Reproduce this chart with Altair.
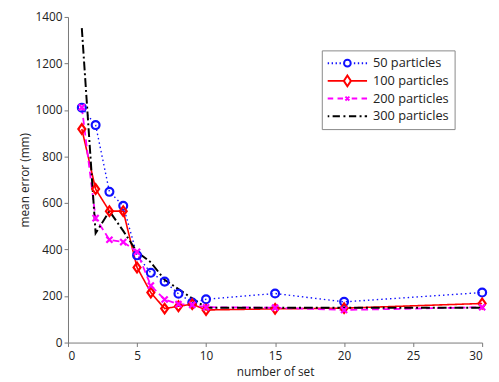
import altair as alt
import pandas as pd

# ---- data ----
sets = [1, 2, 3, 4, 5, 6, 7, 8, 9, 10, 15, 20, 30]
p50 = [1010, 935, 648, 588, 375, 300, 262, 210, 172, 186, 211, 175, 215]
p100 = [918, 660, 565, 565, 323, 215, 146, 156, 165, 140, 145, 148, 168]
p200 = [1012, 535, 442, 432, 390, 245, 185, 165, 162, 152, 150, 140, 152]
p300 = [1352, 470, 565, 480, 390, 345, 270, 230, 190, 150, 150, 150, 150]

series_names = ["50 particles", "100 particles", "200 particles", "300 particles"]
series_values = [p50, p100, p200, p300]
x_ticks = [0, 5, 10, 15, 20, 25, 30]
y_ticks = [0, 200, 400, 600, 800, 1000, 1200, 1400]

rows = []
for name, vals in zip(series_names, series_values):
    for s, v in zip(sets, vals):
        rows.append({"set": s, "error": v, "series": name})
df = pd.DataFrame(rows)

colors = ["#1010ff", "#ff0000", "#ff00ff", "#000000"]

x_enc = alt.X("set:Q", title="number of set",
              scale=alt.Scale(domain=[0, 30], nice=False),
              axis=alt.Axis(values=x_ticks, format="d", titlePadding=6, labelPadding=4))
y_enc = alt.Y("error:Q", title="mean error (mm)",
              scale=alt.Scale(domain=[0, 1400], nice=False),
              axis=alt.Axis(values=y_ticks, format="d", titlePadding=4))

base = alt.Chart(df)

lines = base.mark_line().encode(
    x=x_enc,
    y=y_enc,
    color=alt.Color("series:N", scale=alt.Scale(domain=series_names, range=colors), legend=None),
    strokeDash=alt.StrokeDash("series:N",
                              scale=alt.Scale(domain=series_names,
                                              range=[[1.5, 3], [1, 0], [7, 4], [9, 3, 2, 3]]),
                              legend=None),
    strokeWidth=alt.StrokeWidth("series:N",
                                scale=alt.Scale(domain=series_names, range=[1.4, 2, 2, 2]),
                                legend=None),
    order=alt.Order("set:Q"),
)

marker_names = series_names[:3]
marker_paths = [
    "circle",
    "M0,-1.25L0.9,0L0,1.25L-0.9,0Z",
    "M-0.8,-0.8L0.8,0.8M-0.8,0.8L0.8,-0.8",
]

points = base.transform_filter(
    alt.FieldOneOfPredicate(field="series", oneOf=marker_names)
).mark_point(filled=False, strokeWidth=2.2, opacity=1).encode(
    x=x_enc,
    y=y_enc,
    color=alt.Color("series:N", scale=alt.Scale(domain=marker_names, range=colors[:3]), legend=None),
    shape=alt.Shape("series:N", scale=alt.Scale(domain=marker_names, range=marker_paths), legend=None),
    size=alt.Size("series:N", scale=alt.Scale(domain=marker_names, range=[64, 60, 42]), legend=None),
)

legend_paths = [
    "M-1,0h0.07M-0.8,0h0.07M-0.6,0h0.07M-0.4,0h0.07M0.33,0h0.07M0.53,0h0.07M0.73,0h0.07M0.93,0h0.07"
    "M0.17,0A0.17,0.17 0 1 1 -0.17,0A0.17,0.17 0 1 1 0.17,0",
    "M-1,0H-0.2M0.2,0H1M0,-0.27L0.18,0L0,0.27L-0.18,0Z",
    "M-1,0H-0.72M-0.5,0H-0.22M0.22,0H0.5M0.72,0H1M-0.1,-0.1L0.1,0.1M-0.1,0.1L0.1,-0.1",
    "M-1,0H-0.92M-0.75,0H-0.38M-0.2,0H-0.1M0.08,0H0.45M0.62,0H0.72M0.88,0H1",
]

legend_layer = base.transform_filter("false").mark_point(filled=False, opacity=1).encode(
    color=alt.Color("series:N", scale=alt.Scale(domain=series_names, range=colors),
                    legend=alt.Legend(title=None)),
    shape=alt.Shape("series:N", scale=alt.Scale(domain=series_names, range=legend_paths),
                    legend=alt.Legend(title=None)),
)

chart = alt.layer(lines, points, legend_layer).resolve_scale(
    color="independent", shape="independent"
).properties(
    width=421,
    height=331,
    autosize=alt.AutoSizeParams(type="none"),
    padding={"left": 61, "top": 6, "right": 9, "bottom": 37},
).configure_view(
    strokeWidth=0
).configure_axis(
    grid=False,
    labelFont="Open Sans",
    titleFont="Open Sans",
    labelFontSize=12,
    titleFontSize=12,
    titleFontWeight="normal",
    labelColor="#222222",
    titleColor="#222222",
    domainColor="#777777",
    tickColor="#777777",
    tickSize=4,
    labelPadding=2,
).configure_legend(
    orient="none",
    legendX=258,
    legendY=34,
    padding=5,
    strokeColor="#888888",
    fillColor="#ffffff",
    labelFont="Open Sans",
    labelFontSize=13,
    labelColor="#222222",
    symbolSize=1600,
    symbolStrokeWidth=2,
    clipHeight=16,
    rowPadding=2,
    labelOffset=5,
    cornerRadius=0,
)

chart.save("out.html", embed_options={"renderer": "svg", "actions": False})
